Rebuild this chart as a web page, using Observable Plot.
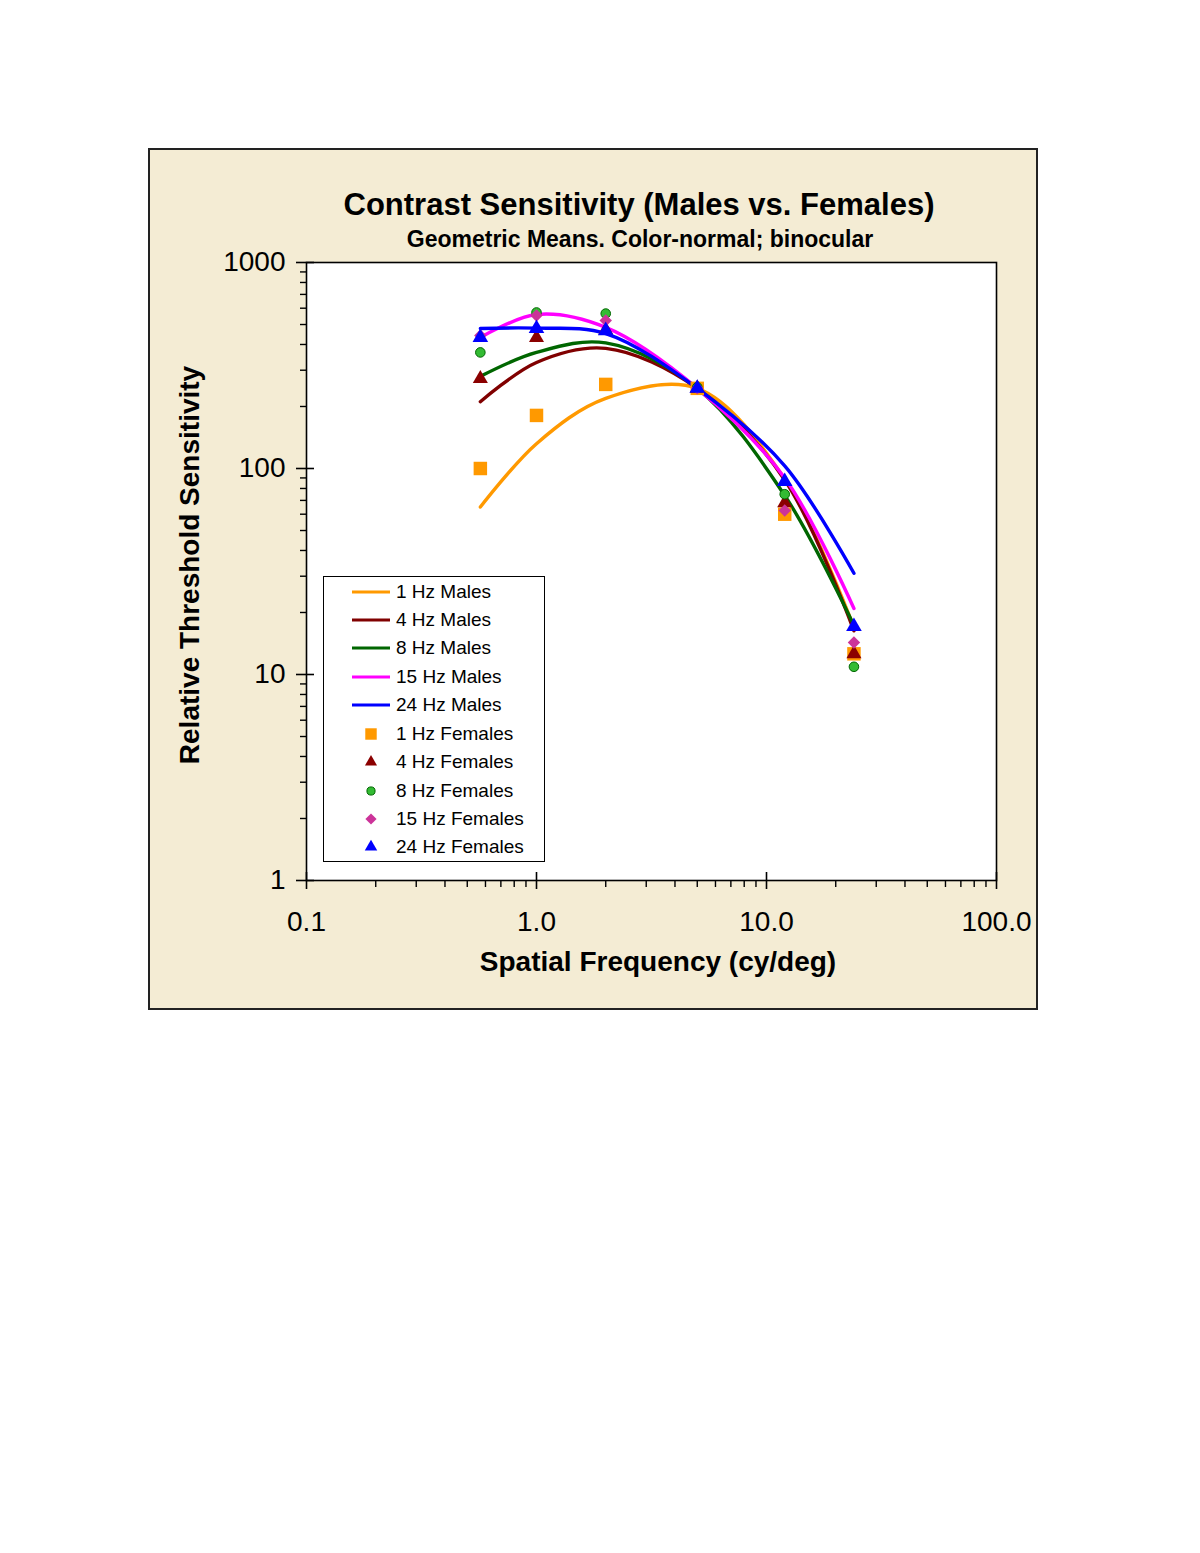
<!DOCTYPE html>
<html>
<head>
<meta charset="utf-8">
<script src="https://cdn.jsdelivr.net/npm/d3@7"></script>
<script src="https://cdn.jsdelivr.net/npm/@observablehq/plot@0.6"></script>
<style>
  body { margin: 0; background: #ffffff; font-family: "Liberation Sans", Arial, sans-serif; }
  #page { position: relative; width: 1200px; height: 1553px; overflow: hidden; }
  #box { position: absolute; left: 148px; top: 148px; width: 886px; height: 858px; border: 2px solid #222; background: #F4ECD4; }
  .abs { position: absolute; white-space: nowrap; color: #000; }
  #title { left: 639px; top: 189px; font-size: 31px; font-weight: bold; line-height: 31px; transform: translateX(-50%); }
  #subtitle { left: 640px; top: 228px; font-size: 23px; font-weight: bold; line-height: 23px; transform: translateX(-50%); }
  #ytitle { left: 190px; top: 565px; font-size: 28px; font-weight: bold; line-height: 28px; transform: translate(-50%, -50%) rotate(-90deg); }
  #xtitle { left: 658px; top: 962px; font-size: 28px; font-weight: bold; line-height: 28px; transform: translate(-50%, -50%); }
  #chart { position: absolute; left: 150px; top: 250px; }
  #legend { position: absolute; left: 323px; top: 576px; width: 220px; height: 284px; border: 1px solid #000; background: #fff; }
  .row { position: absolute; left: 0; height: 28px; display: flex; align-items: center; font-size: 19px; white-space: nowrap; }
</style>
</head>
<body>
<div id="page">
  <div id="box"></div>
  <div id="title" class="abs"></div>
  <div id="subtitle" class="abs"></div>
  <div id="ytitle" class="abs"></div>
  <div id="xtitle" class="abs"></div>
  <div id="chart"></div>
  <div id="legend"></div>
</div>
<script>
// ---- Texts ----
const titleText = "Contrast Sensitivity (Males vs. Females)";
const subtitleText = "Geometric Means. Color-normal; binocular";
const xTitle = "Spatial Frequency (cy/deg)";
const yTitle = "Relative Threshold Sensitivity";

// ---- Axis ticks ----
const xMajor = [0.1, 1, 10, 100];
const xTickLabels = ["0.1", "1.0", "10.0", "100.0"];
const yMajor = [1, 10, 100, 1000];
const yTickLabels = ["1", "10", "100", "1000"];

// ---- Data (spatial frequency, cy/deg) ----
const freqs = [0.57, 1, 2, 5, 12, 24];

// Males (smooth lines)
const maleNames = ["1 Hz Males", "4 Hz Males", "8 Hz Males", "15 Hz Males", "24 Hz Males"];
const maleColors = ["#FF9900", "#800000", "#006600", "#FF00FF", "#0000FF"];
const males1 = [65, 132, 219, 245, 89, 16.9];
const males4 = [211, 327, 383, 245, 88, 16.3];
const males8 = [280, 366, 407, 245, 74, 17.3];
const males15 = [432, 559, 484, 245, 90, 20.9];
const males24 = [478, 480, 452, 245, 103, 31];

// Females (markers)
const femaleNames = ["1 Hz Females", "4 Hz Females", "8 Hz Females", "15 Hz Females", "24 Hz Females"];
const femaleFills = ["#FF9900", "#8B0000", "#33BB33", "#CC3399", "#0000FF"];
const femaleStrokes = ["none", "none", "#006600", "none", "none"];
const femaleSymbols = ["square", "triangle", "circle", "diamond2", "triangle"];
const femaleR = [7.6, 5.6, 4.8, 5.6, 5.8];
const females1 = [100, 181, 256, 245, 60, 12.6];
const females4 = [273, 432, 470, 245, 68, 12.6];
const females8 = [366, 572, 565, 248, 75, 10.9];
const females15 = [442, 553, 523, 245, 62.5, 14.3];
const females24 = [432, 478, 467, 245, 86.5, 17.1];

const maleValues = [males1, males4, males8, males15, males24];
const femaleValues = [females1, females4, females8, females15, females24];

// ---- Text placement ----
document.getElementById("title").textContent = titleText;
document.getElementById("subtitle").textContent = subtitleText;
document.getElementById("xtitle").textContent = xTitle;
document.getElementById("ytitle").textContent = yTitle;

// ---- Chart ----
const xMinor = [];
for (const dec of [0.1, 1, 10]) for (let k = 2; k <= 9; k++) xMinor.push(+(dec * k).toPrecision(3));
const yMinor = [];
for (const dec of [1, 10, 100]) for (let k = 2; k <= 9; k++) yMinor.push(+(dec * k).toPrecision(3));

const width = 880, height = 700;
const marginLeft = 156, marginRight = 34, marginTop = 12, marginBottom = 70;
const frameW = width - marginLeft - marginRight;
const frameH = height - marginTop - marginBottom;

const marks = [
  Plot.frame({fill: "white", stroke: "none"}),
  Plot.axisX({ticks: xMinor, tickSize: 7, tickFormat: () => "", label: null, strokeWidth: 1.4}),
  Plot.axisX({ticks: xMajor, tickSize: 9, tickPadding: 22, tickFormat: d => xTickLabels[xMajor.indexOf(d)], label: null, fontSize: 28, strokeWidth: 1.6}),
  Plot.axisY({ticks: yMinor, tickSize: 6, tickFormat: () => "", label: null, strokeWidth: 1.4}),
  Plot.axisY({ticks: yMajor, tickSize: 10, tickPadding: 11, tickFormat: d => yTickLabels[yMajor.indexOf(d)], label: null, fontSize: 28, strokeWidth: 1.6}),
  Plot.tickX(xMajor, {x: d => d, insetTop: frameH - 8, stroke: "black", strokeWidth: 1.6}),
  Plot.tickY(yMajor, {y: d => d, insetRight: frameW - 8, stroke: "black", strokeWidth: 1.6})
];

maleNames.forEach((name, k) => {
  const rows = freqs.map((f, i) => ({series: name, freq: f, value: maleValues[k][i]}));
  marks.push(Plot.line(rows, {x: "freq", y: "value", stroke: maleColors[k], strokeWidth: 3.4, curve: "catmull-rom"}));
});
femaleNames.forEach((name, k) => {
  const rows = freqs.map((f, i) => ({series: name, freq: f, value: femaleValues[k][i]}));
  marks.push(Plot.dot(rows, {x: "freq", y: "value", symbol: femaleSymbols[k], r: femaleR[k], fill: femaleFills[k], stroke: femaleStrokes[k], strokeWidth: 1}));
});
marks.push(Plot.frame({stroke: "black", strokeWidth: 1.6}));

const chart = Plot.plot({
  width, height, marginLeft, marginRight, marginTop, marginBottom,
  x: {type: "log", domain: [0.1, 100]},
  y: {type: "log", domain: [1, 1000]},
  style: {background: "transparent", fontFamily: "'Liberation Sans', Arial, sans-serif", color: "black", overflow: "visible"},
  marks
});
document.getElementById("chart").appendChild(chart);

// ---- Legend ----
const legend = d3.select("#legend");
const symbolMap = {square: d3.symbolSquare, triangle: d3.symbolTriangle, circle: d3.symbolCircle, diamond2: d3.symbolDiamond2};
const legendScale = [0.85, 0.8, 0.85, 0.9, 0.8];
const legendItems = [
  ...maleNames.map((n, k) => ({name: n, type: "line", color: maleColors[k]})),
  ...femaleNames.map((n, k) => ({name: n, type: "dot", fill: femaleFills[k], stroke: femaleStrokes[k], symbol: femaleSymbols[k], r: femaleR[k] * legendScale[k]}))
];
const rowStep = 28.44;
legendItems.forEach((it, i) => {
  const row = legend.append("div").attr("class", "row").style("top", (i * rowStep + 0.5) + "px");
  const svg = row.append("svg").attr("width", 72).attr("height", 28);
  if (it.type === "line") {
    svg.append("line").attr("x1", 28).attr("x2", 66).attr("y1", 14).attr("y2", 14)
      .attr("stroke", it.color).attr("stroke-width", 3);
  } else {
    svg.append("path").attr("transform", "translate(47,14)")
      .attr("d", d3.symbol(symbolMap[it.symbol], Math.PI * it.r * it.r)())
      .attr("fill", it.fill).attr("stroke", it.stroke).attr("stroke-width", 1);
  }
  row.append("span").text(it.name);
});
</script>
</body>
</html>
